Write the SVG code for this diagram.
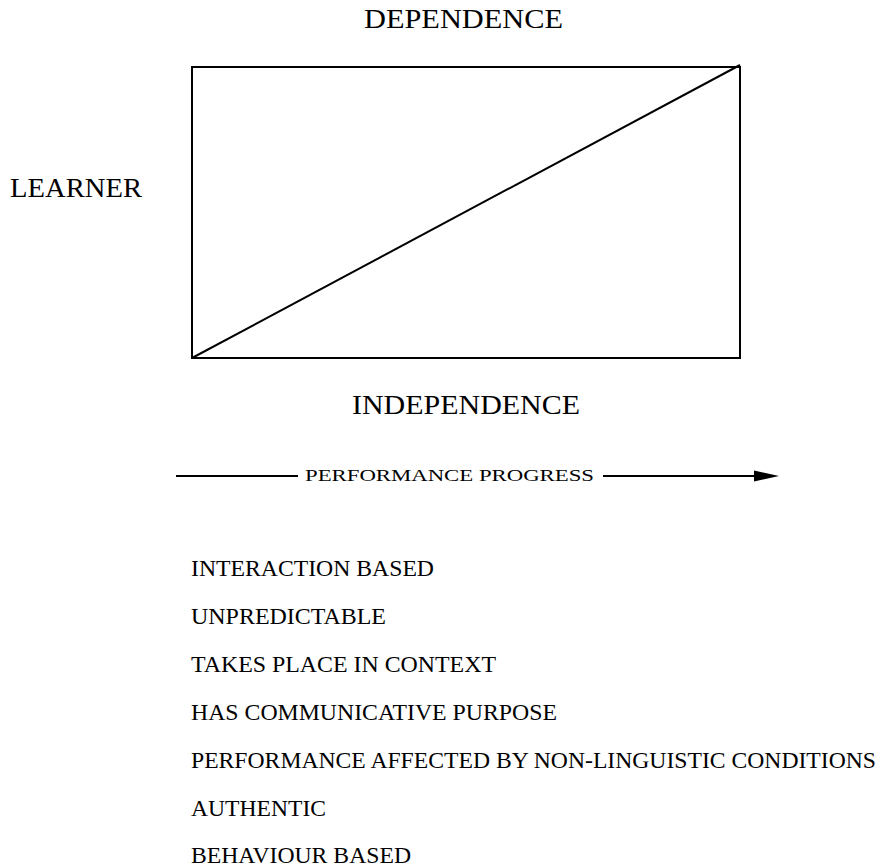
<svg xmlns="http://www.w3.org/2000/svg" width="892" height="867" viewBox="0 0 892 867">
<style>
text{font-family:"Liberation Serif","Times New Roman",serif;fill:#000}
.h{font-size:27px}
.s{font-size:16px}
.l{font-size:24px}
.ln{stroke:#000;stroke-width:2;fill:none}
</style>
<rect width="892" height="867" fill="#fff"/>
<g id="box">
<rect class="ln" x="192" y="67" width="548" height="291"/>
</g>
<g id="connectors">
<line class="ln" x1="192" y1="358" x2="740" y2="65"/>
<line class="ln" x1="176" y1="476" x2="298" y2="476"/>
<line class="ln" x1="603" y1="476" x2="760" y2="476"/>
<path d="M754,470.5 L779,476 L754,481.5 Z" fill="#000"/>
</g>
<g id="labels">
<text class="h" x="364" y="28" textLength="199" lengthAdjust="spacingAndGlyphs">DEPENDENCE</text>
<text class="h" x="10" y="197" textLength="132" lengthAdjust="spacingAndGlyphs">LEARNER</text>
<text class="h" x="352" y="414" textLength="228" lengthAdjust="spacingAndGlyphs">INDEPENDENCE</text>
<text class="s" x="305" y="481" textLength="289" lengthAdjust="spacingAndGlyphs">PERFORMANCE PROGRESS</text>
</g>
<g id="list">
<text class="l" x="191" y="576" textLength="243" lengthAdjust="spacingAndGlyphs">INTERACTION BASED</text>
<text class="l" x="191" y="624" textLength="195" lengthAdjust="spacingAndGlyphs">UNPREDICTABLE</text>
<text class="l" x="191" y="672" textLength="305" lengthAdjust="spacingAndGlyphs">TAKES PLACE IN CONTEXT</text>
<text class="l" x="191" y="720" textLength="366" lengthAdjust="spacingAndGlyphs">HAS COMMUNICATIVE PURPOSE</text>
<text class="l" x="191" y="768" textLength="685" lengthAdjust="spacingAndGlyphs">PERFORMANCE AFFECTED BY NON-LINGUISTIC CONDITIONS</text>
<text class="l" x="191" y="816" textLength="135" lengthAdjust="spacingAndGlyphs">AUTHENTIC</text>
<text class="l" x="191" y="863" textLength="220" lengthAdjust="spacingAndGlyphs">BEHAVIOUR BASED</text>
</g>
</svg>
